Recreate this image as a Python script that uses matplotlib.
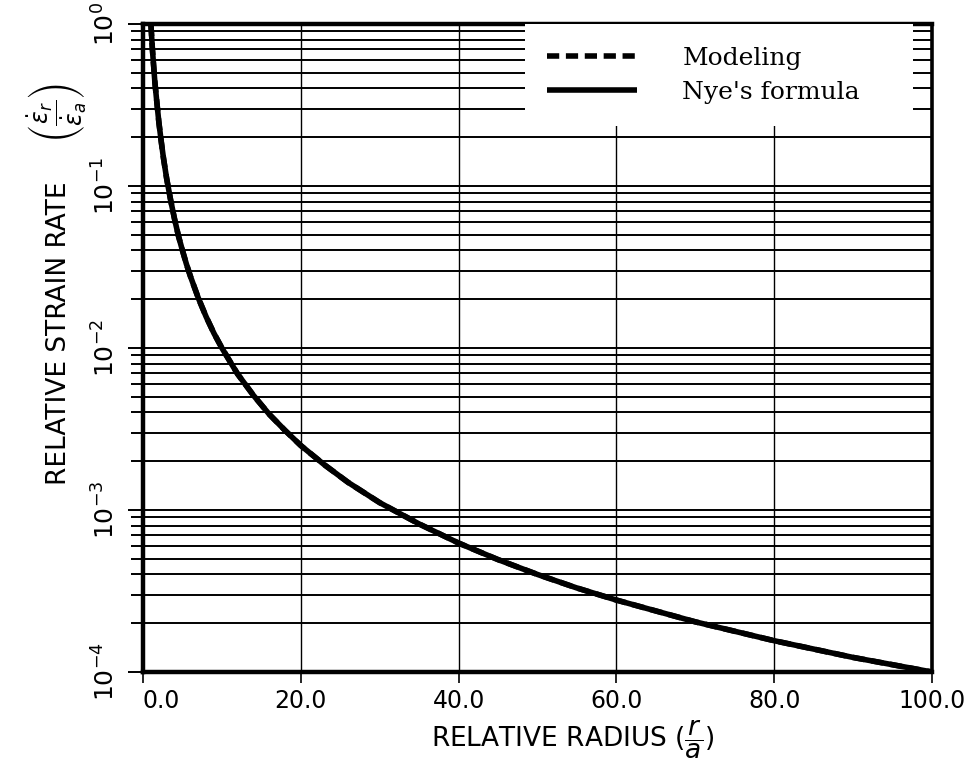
import numpy as np
import matplotlib
matplotlib.use('Agg')
import matplotlib.pyplot as plt
from matplotlib.ticker import LogLocator, NullFormatter

# relative radius r/a and relative strain rate
radius = [1.0, 1.1, 1.2, 1.35, 1.5, 1.7, 2.0, 2.3, 2.6, 3.0, 3.5, 4.0, 4.5, 5.0,
          5.5, 6.0, 7.0, 8.0, 9.0, 10.0, 11.0, 12.0, 14.0, 16.0, 18.0, 20.0,
          23.0, 26.0, 30.0, 35.0, 40.0, 45.0, 50.0, 55.0, 60.0, 70.0, 80.0, 90.0, 100.0]
nye_rate = [1.0, 0.83, 0.69, 0.55, 0.44, 0.35, 0.25, 0.19, 0.148, 0.111, 0.082,
            0.0625, 0.049, 0.040, 0.033, 0.0278, 0.0204, 0.0156, 0.0123, 0.0100,
            0.0083, 0.0069, 0.0051, 0.0039, 0.0031, 0.0025, 0.0019, 0.00148,
            0.00111, 0.00082, 0.000625, 0.000494, 0.00040, 0.00033, 0.000278,
            0.000204, 0.000156, 0.000123, 0.00010]
# the modelled curve lies on top of Nye's formula
model_rate = list(nye_rate)

xticks = [0, 20, 40, 60, 80, 100]
xtick_labels = ['0.0', '20.0', '40.0', '60.0', '80.0', '100.0']

fig = plt.figure(figsize=(9.76, 7.76), dpi=100)
ax = fig.add_axes([143 / 976, 1 - 672 / 776, (932 - 143) / 976, (672 - 24) / 776])

ax.set_yscale('log')
ax.set_xlim(0, 100)
ax.set_ylim(1e-4, 1)

# grid
ax.yaxis.set_minor_locator(LogLocator(base=10, subs=np.arange(2, 10)))
ax.yaxis.set_minor_formatter(NullFormatter())
ax.grid(True, which='both', axis='y', color='black', lw=1.4)
ax.grid(True, which='major', axis='x', color='black', lw=1.0)

ax.plot(radius, nye_rate, color='black', lw=4, solid_capstyle='butt',
        solid_joinstyle='round', label="Nye's formula", zorder=3)
ax.plot(radius, model_rate, color='black', lw=4, ls=(0, (2.2, 1.2)), label='Modeling', zorder=3)

ax.set_xticks(xticks)
ax.set_xticklabels(xtick_labels, fontsize=17)
ax.get_xticklabels()[0].set_ha('left')
ax.tick_params(axis='x', direction='out', length=8, width=1.2, pad=4)
ax.tick_params(axis='y', which='major', direction='out', length=11, width=1.4, pad=6,
               labelsize=18, labelrotation=90)
ax.tick_params(axis='y', which='minor', direction='out', length=9, width=1.4)
for lab in ax.get_yticklabels():
    lab.set_va('center')

for side in ['left', 'bottom', 'top']:
    ax.spines[side].set_linewidth(3.2)
ax.spines['right'].set_linewidth(2.6)

ax.set_xlabel(r'RELATIVE RADIUS ($\dfrac{r}{a}$)', fontsize=19)
ax.xaxis.set_label_coords(0.545, -0.072)
ax.set_ylabel('RELATIVE STRAIN RATE', fontsize=19)
ax.yaxis.set_label_coords(-0.09, 0.522)
fig.text(57 / 976, 1 - 113 / 776,
         r'$\left(\dfrac{\dot{\varepsilon}_r}{\dot{\varepsilon}_a}\right)$',
         rotation=90, ha='center', va='center', fontsize=17)

h, l = ax.get_legend_handles_labels()
leg = ax.legend(h[::-1], l[::-1], loc='upper left', bbox_to_anchor=(0.484, 1.0, 0.492, 0.0),
                mode='expand', borderaxespad=0, borderpad=0.9, handlelength=3.6,
                handletextpad=1.8, labelspacing=0.45, fancybox=False, framealpha=1,
                edgecolor='none', facecolor='white',
                prop={'family': 'DejaVu Serif', 'size': 18})

fig.savefig('out.png', dpi=100)
